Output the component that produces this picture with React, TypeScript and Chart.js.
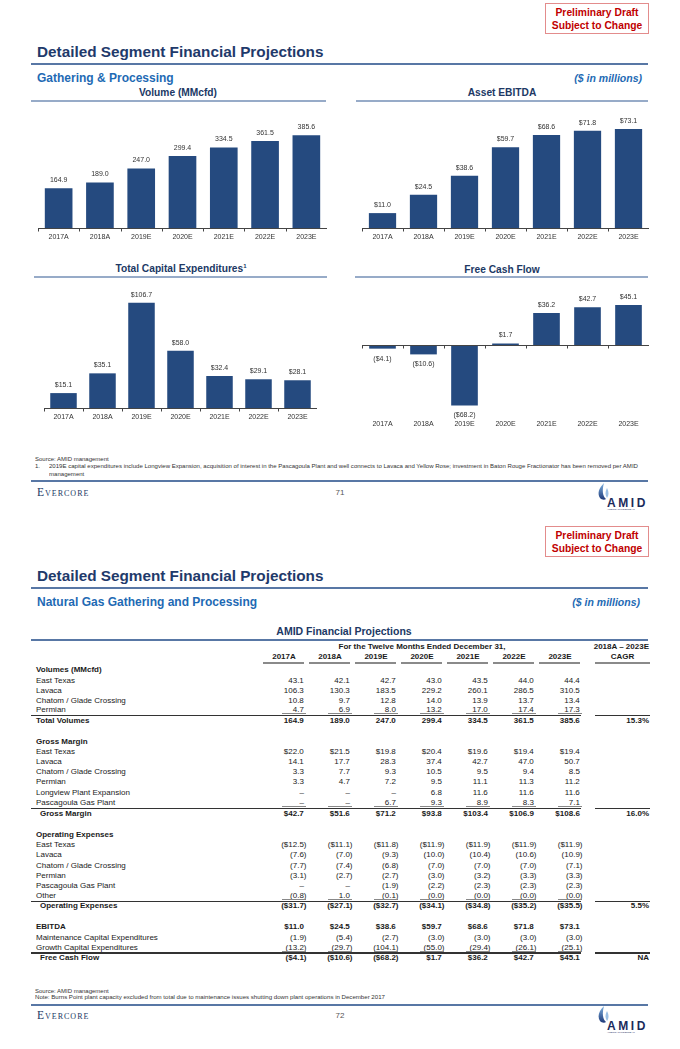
import React, { useEffect, useRef } from 'react';
import { Chart, registerables } from 'chart.js';

Chart.register(...registerables);

const FONT = "'Liberation Sans', Arial, Helvetica, sans-serif";
const SERIF = "'Liberation Serif', 'Times New Roman', serif";

// ---------- chart data ----------
const years = ['2017A', '2018A', '2019E', '2020E', '2021E', '2022E', '2023E'];
const volumeMMcfd = [164.9, 189.0, 247.0, 299.4, 334.5, 361.5, 385.6];
const assetEbitda = [11.0, 24.5, 38.6, 59.7, 68.6, 71.8, 73.1];
const totalCapex = [15.1, 35.1, 106.7, 58.0, 32.4, 29.1, 28.1];
const freeCashFlow = [-4.1, -10.6, -68.2, 1.7, 36.2, 42.7, 45.1];

// ---------- table data ----------
const volEastTexas = ['43.1', '42.1', '42.7', '43.0', '43.5', '44.0', '44.4'];
const volLavaca = ['106.3', '130.3', '183.5', '229.2', '260.1', '286.5', '310.5'];
const volChatom = ['10.8', '9.7', '12.8', '14.0', '13.9', '13.7', '13.4'];
const volPermian = ['4.7', '6.9', '8.0', '13.2', '17.0', '17.4', '17.3'];
const volTotal = ['164.9', '189.0', '247.0', '299.4', '334.5', '361.5', '385.6'];

const gmEastTexas = ['$22.0', '$21.5', '$19.8', '$20.4', '$19.6', '$19.4', '$19.4'];
const gmLavaca = ['14.1', '17.7', '28.3', '37.4', '42.7', '47.0', '50.7'];
const gmChatom = ['3.3', '7.7', '9.3', '10.5', '9.5', '9.4', '8.5'];
const gmPermian = ['3.3', '4.7', '7.2', '9.5', '11.1', '11.3', '11.2'];
const gmLongview = ['–', '–', '–', '6.8', '11.6', '11.6', '11.6'];
const gmPascagoula = ['–', '–', '6.7', '9.3', '8.9', '8.3', '7.1'];
const gmTotal = ['$42.7', '$51.6', '$71.2', '$93.8', '$103.4', '$106.9', '$108.6'];

const oxEastTexas = ['($12.5)', '($11.1)', '($11.8)', '($11.9)', '($11.9)', '($11.9)', '($11.9)'];
const oxLavaca = ['(7.6)', '(7.0)', '(9.3)', '(10.0)', '(10.4)', '(10.6)', '(10.9)'];
const oxChatom = ['(7.7)', '(7.4)', '(6.8)', '(7.0)', '(7.0)', '(7.0)', '(7.1)'];
const oxPermian = ['(3.1)', '(2.7)', '(2.7)', '(3.0)', '(3.2)', '(3.3)', '(3.3)'];
const oxPascagoula = ['–', '–', '(1.9)', '(2.2)', '(2.3)', '(2.3)', '(2.3)'];
const oxOther = ['(0.8)', '1.0', '(0.1)', '(0.0)', '(0.0)', '(0.0)', '(0.0)'];
const oxTotal = ['($31.7)', '($27.1)', '($32.7)', '($34.1)', '($34.8)', '($35.2)', '($35.5)'];

const ebitdaRow = ['$11.0', '$24.5', '$38.6', '$59.7', '$68.6', '$71.8', '$73.1'];
const maintCapex = ['(1.9)', '(5.4)', '(2.7)', '(3.0)', '(3.0)', '(3.0)', '(3.0)'];
const growthCapex = ['(13.2)', '(29.7)', '(104.1)', '(55.0)', '(29.4)', '(26.1)', '(25.1)'];
const fcfRow = ['($4.1)', '($10.6)', '($68.2)', '$1.7', '$36.2', '$42.7', '$45.1'];

const cagrVolumes = '15.3%';
const cagrGrossMargin = '16.0%';
const cagrOpex = '5.5%';
const cagrFcf = 'NA';

// ---------- styling ----------
const BAR_COLOR = '#254A7F';
const NAVY = '#1F3A6B';
const DARK_NAVY = '#203864';
const BLUE = '#1E6AB4';
const RULE = '#5877A5';
const LIGHT_RULE = '#97ABC8';
const AXIS_H = 16;

const baseAxisPlugin = {
  id: 'baseAxis',
  afterDatasetsDraw(chart: any) {
    const { ctx, chartArea, scales } = chart;
    const y0 = Math.round(scales.y.getPixelForValue(0)) + 0.5;
    const n = chart.data.labels.length;
    ctx.save();
    ctx.strokeStyle = '#444';
    ctx.lineWidth = 1;
    ctx.beginPath();
    ctx.moveTo(chartArea.left, y0);
    ctx.lineTo(chartArea.right, y0);
    for (let i = 0; i <= n; i++) {
      const x = Math.round(scales.x.getPixelForValue(i - 0.5)) + 0.5;
      ctx.moveTo(x, y0);
      ctx.lineTo(x, y0 + 3);
    }
    ctx.stroke();
    ctx.restore();
  },
};

function makeValueLabels(fmt: (v: number) => string) {
  return {
    id: 'valueLabels',
    afterDatasetsDraw(chart: any) {
      const ctx = chart.ctx;
      const meta = chart.getDatasetMeta(0);
      const data = chart.data.datasets[0].data as number[];
      ctx.save();
      ctx.font = `7px ${FONT}`;
      ctx.fillStyle = '#333';
      ctx.textAlign = 'center';
      ctx.textBaseline = 'middle';
      meta.data.forEach((el: any, i: number) => {
        const v = data[i];
        ctx.fillText(fmt(v), el.x, v >= 0 ? el.y - 8 : el.y + 10);
      });
      ctx.restore();
    },
  };
}

type ChartProps = {
  left: number;
  top: number;
  width: number;
  plotH: number;
  min: number;
  max: number;
  values: number[];
  money: boolean;
  barPct: number;
  tickPad: number;
};

function BarChart(p: ChartProps) {
  const ref = useRef<HTMLCanvasElement>(null);
  useEffect(() => {
    const fmt = (v: number) =>
      p.money ? (v < 0 ? `($${(-v).toFixed(1)})` : `$${v.toFixed(1)}`) : v.toFixed(1);
    const chart = new Chart(ref.current as HTMLCanvasElement, {
      type: 'bar',
      data: {
        labels: years,
        datasets: [
          {
            data: p.values,
            backgroundColor: BAR_COLOR,
            borderWidth: 0,
            barPercentage: p.barPct,
            categoryPercentage: 1,
          },
        ],
      },
      options: {
        animation: false,
        responsive: true,
        maintainAspectRatio: false,
        layout: { padding: 0 },
        plugins: { legend: { display: false }, tooltip: { enabled: false }, title: { display: false } },
        scales: {
          x: {
            grid: { display: false, drawTicks: false },
            border: { display: false },
            ticks: {
              color: '#333',
              font: { family: FONT, size: 7 },
              padding: p.tickPad,
              maxRotation: 0,
              autoSkip: false,
            },
            afterFit: (s: any) => {
              s.height = AXIS_H;
            },
          },
          y: { display: false, min: p.min, max: p.max },
        },
      } as any,
      plugins: [baseAxisPlugin, makeValueLabels(fmt)],
    });
    return () => chart.destroy();
  }, []);
  return (
    <div style={{ position: 'absolute', left: p.left, top: p.top, width: p.width, height: p.plotH + AXIS_H }}>
      <canvas ref={ref} />
    </div>
  );
}

type TxtProps = {
  x: number;
  y: number;
  size?: number;
  bold?: boolean;
  italic?: boolean;
  color?: string;
  align?: 'left' | 'right' | 'center';
  family?: string;
  style?: React.CSSProperties;
  children?: React.ReactNode;
};

function Txt({ x, y, size = 8, bold = false, italic = false, color = '#1a1a1a', align = 'left', family = FONT, style, children }: TxtProps) {
  const L = Math.round(size * 1.3);
  const s: React.CSSProperties = {
    position: 'absolute',
    top: y - L / 2,
    lineHeight: `${L}px`,
    fontSize: size,
    fontWeight: bold ? 700 : 400,
    fontStyle: italic ? 'italic' : 'normal',
    color,
    fontFamily: family,
    whiteSpace: 'nowrap',
  };
  if (align === 'left') s.left = x;
  else if (align === 'right') s.right = 680 - x;
  else {
    s.left = x - 300;
    s.width = 600;
    s.textAlign = 'center';
  }
  return <div style={{ ...s, ...style }}>{children}</div>;
}

function Rule({ x1, x2, y, h = 1, color = RULE }: { x1: number; x2: number; y: number; h?: number; color?: string }) {
  return <div style={{ position: 'absolute', left: x1, width: x2 - x1, top: y - h / 2, height: h, background: color }} />;
}

function Small({ x, y, size = 12, children }: { x: number; y: number; size?: number; children?: React.ReactNode }) {
  return (
    <div
      style={{
        position: 'absolute',
        left: x,
        top: y - 6,
        lineHeight: '12px',
        fontSize: size,
        fontFamily: FONT,
        color: '#333',
        whiteSpace: 'nowrap',
        transform: 'scale(0.5)',
        transformOrigin: '0 50%',
      }}
    >
      {children}
    </div>
  );
}

function PrelimBox({ top }: { top: number }) {
  return (
    <>
      <div
        style={{
          position: 'absolute',
          left: 545,
          top,
          width: 104,
          height: 31,
          boxSizing: 'border-box',
          border: '1px solid #E38C8C',
        }}
      />
      <Txt x={597} y={top + 9.7} size={10.3} bold color="#C00000" align="center">
        Preliminary Draft
      </Txt>
      <Txt x={597} y={top + 22} size={10.3} bold color="#C00000" align="center">
        Subject to Change
      </Txt>
    </>
  );
}

function AmidLogo({ top, gid }: { top: number; gid: string }) {
  return (
    <svg style={{ position: 'absolute', left: 597, top }} width={54} height={27} viewBox="0 0 54 27">
      <defs>
        <linearGradient id={gid} x1="0" y1="0" x2="0" y2="1">
          <stop offset="0" stopColor="#7FB2E0" />
          <stop offset="1" stopColor="#1F3A7A" />
        </linearGradient>
      </defs>
      <path d="M7 0 C 2 5, 0 10, 3 15 C 4.5 17, 8 17, 9 16 C 5.5 13, 5 7, 7 0 Z" fill={`url(#${gid})`} />
      <path d="M10 5 C 8 9, 8 12, 10 15 C 12 12, 12 9, 10 5 Z" fill="#9CC0E4" />
      <text x={10} y={24} fontFamily={FONT} fontWeight={900} fontSize={12} letterSpacing={2.6} fill="#1B2A5C">
        AMID
      </text>
      <text x={10} y={26.6} fontFamily={FONT} fontSize={2.4} fill="#1B2A5C">
        AMERICAN MIDSTREAM
      </text>
    </svg>
  );
}

function Footer({ rule, brandY, page, logoTop, gid }: { rule: number; brandY: number; page: string; logoTop: number; gid: string }) {
  return (
    <>
      <Rule x1={31} x2={648} y={rule} h={2} />
      <Txt x={37} y={brandY} size={11.5} family={SERIF} color={DARK_NAVY} style={{ fontVariant: 'small-caps', letterSpacing: '1px' }}>
        Evercore
      </Txt>
      <Txt x={340} y={brandY + 1} size={8} color="#555" align="center">
        {page}
      </Txt>
      <AmidLogo top={logoTop} gid={gid} />
    </>
  );
}

const colRight = years.map((_, i) => 304 + 46 * i);

function Cell({ x, y, v, bold }: { x: number; y: number; v: string; bold?: boolean }) {
  const hangs = v.endsWith(')');
  return (
    <Txt x={x + 2.5} y={y} bold={bold} align="right">
      {v}
      {!hangs && <span style={{ visibility: 'hidden' }}>)</span>}
    </Txt>
  );
}

type Row = { label: string; y: number; vals?: string[]; bold?: boolean; indent?: boolean; cagr?: string; underline?: boolean };

function Table() {
  const rows: Row[] = [
    { label: 'Volumes (MMcfd)', y: 670, bold: true },
    { label: 'East Texas', y: 680.5, vals: volEastTexas },
    { label: 'Lavaca', y: 690.5, vals: volLavaca },
    { label: 'Chatom / Glade Crossing', y: 700.5, vals: volChatom },
    { label: 'Permian', y: 710, vals: volPermian, underline: true },
    { label: 'Total Volumes', y: 721, vals: volTotal, bold: true, cagr: cagrVolumes },
    { label: 'Gross Margin', y: 742, bold: true },
    { label: 'East Texas', y: 752, vals: gmEastTexas },
    { label: 'Lavaca', y: 762, vals: gmLavaca },
    { label: 'Chatom / Glade Crossing', y: 772, vals: gmChatom },
    { label: 'Permian', y: 782, vals: gmPermian },
    { label: 'Longview Plant Expansion', y: 792.5, vals: gmLongview },
    { label: 'Pascagoula Gas Plant', y: 803, vals: gmPascagoula, underline: true },
    { label: 'Gross Margin', y: 814, vals: gmTotal, bold: true, indent: true, cagr: cagrGrossMargin },
    { label: 'Operating Expenses', y: 835, bold: true },
    { label: 'East Texas', y: 845, vals: oxEastTexas },
    { label: 'Lavaca', y: 855, vals: oxLavaca },
    { label: 'Chatom / Glade Crossing', y: 865.5, vals: oxChatom },
    { label: 'Permian', y: 876, vals: oxPermian },
    { label: 'Pascagoula Gas Plant', y: 886, vals: oxPascagoula },
    { label: 'Other', y: 896, vals: oxOther, underline: true },
    { label: 'Operating Expenses', y: 906, vals: oxTotal, bold: true, indent: true, cagr: cagrOpex },
    { label: 'EBITDA', y: 927, vals: ebitdaRow, bold: true },
    { label: 'Maintenance Capital Expenditures', y: 937.5, vals: maintCapex },
    { label: 'Growth Capital Expenditures', y: 947.5, vals: growthCapex, underline: true },
    { label: 'Free Cash Flow', y: 958, vals: fcfRow, bold: true, indent: true, cagr: cagrFcf },
  ];
  return (
    <>
      <Txt x={422} y={647} bold align="center">
        For the Twelve Months Ended December 31,
      </Txt>
      <Txt x={649} y={647} bold align="right">
        2018A – 2023E
      </Txt>
      {years.map((yr, i) => (
        <React.Fragment key={yr}>
          <Txt x={colRight[i] - 20} y={657} bold align="center">
            {yr}
          </Txt>
          <Rule x1={colRight[i] - 41} x2={colRight[i]} y={663} h={1.5} color="#8A8A8A" />
        </React.Fragment>
      ))}
      <Txt x={622.5} y={657} bold align="center">
        CAGR
      </Txt>
      <Rule x1={595} x2={650} y={663} h={1.5} color="#8A8A8A" />
      {rows.map((r, k) => (
        <React.Fragment key={k}>
          <Txt x={r.indent ? 40 : 36} y={r.y} bold={r.bold}>
            {r.label}
          </Txt>
          {r.vals && r.vals.map((v, i) => <Cell key={i} x={colRight[i]} y={r.y} v={v} bold={r.bold} />)}
          {r.cagr && (
            <Txt x={649} y={r.y} bold align="right">
              {r.cagr}
            </Txt>
          )}
          {r.underline && (
            <>
              {colRight.map((cr, i) => (
                <Rule key={i} x1={cr - 22} x2={cr + 2} y={r.y + 3.6} h={0.6} color="#888" />
              ))}
              <Rule x1={31} x2={581} y={r.y + 5.5} h={1.4} color="#333" />
              <Rule x1={595} x2={650} y={r.y + 5.5} h={1.4} color="#333" />
            </>
          )}
        </React.Fragment>
      ))}
    </>
  );
}

export default function App() {
  return (
    <div
      style={{
        position: 'absolute',
        left: 0,
        top: 0,
        width: 680,
        height: 1049,
        overflow: 'hidden',
        background: '#fff',
        fontFamily: FONT,
      }}
    >
      {/* ---------------- Page 71 ---------------- */}
      <PrelimBox top={3} />
      <Txt x={37} y={52} size={15.3} bold color={NAVY}>
        Detailed Segment Financial Projections
      </Txt>
      <Rule x1={31} x2={648} y={64} h={2} />
      <Txt x={37} y={78} size={12} bold color={BLUE}>
        Gathering &amp; Processing
      </Txt>
      <Txt x={642} y={78} size={10.5} bold italic color={BLUE} align="right">
        ($ in millions)
      </Txt>

      <Txt x={178} y={92} size={10.2} bold color={DARK_NAVY} align="center">
        Volume (MMcfd)
      </Txt>
      <Txt x={502} y={92} size={10.2} bold color={DARK_NAVY} align="center">
        Asset EBITDA
      </Txt>
      <Rule x1={31} x2={326} y={101} h={1.5} color={LIGHT_RULE} />
      <Rule x1={356} x2={648} y={101} h={1.5} color={LIGHT_RULE} />

      <BarChart left={38} top={110} width={289} plotH={118} min={0} max={490} values={volumeMMcfd} money={false} barPct={0.67} tickPad={5} />
      <BarChart left={362} top={110} width={287} plotH={118} min={0} max={87.15} values={assetEbitda} money={true} barPct={0.665} tickPad={4.8} />

      <Txt x={181} y={268} size={10.2} bold color={DARK_NAVY} align="center">
        Total Capital Expenditures<sup style={{ fontSize: 6, verticalAlign: 'top', lineHeight: '8px' }}>1</sup>
      </Txt>
      <Txt x={502} y={269} size={10.2} bold color={DARK_NAVY} align="center">
        Free Cash Flow
      </Txt>
      <Rule x1={34} x2={327} y={277} h={1.5} color={LIGHT_RULE} />
      <Rule x1={355} x2={648} y={277} h={1.5} color={LIGHT_RULE} />

      <BarChart left={44} top={285} width={273} plotH={123} min={0} max={124.6} values={totalCapex} money={true} barPct={0.68} tickPad={4.5} />
      <BarChart left={362} top={285} width={287} plotH={131} min={-80.2} max={67.8} values={freeCashFlow} money={true} barPct={0.65} tickPad={4.3} />

      <Small x={35} y={459}>Source: AMID management</Small>
      <Small x={35} y={466}>1.</Small>
      <Small x={49} y={466} size={12.1}>
        2019E capital expenditures include Longview Expansion, acquisition of interest in the Pascagoula Plant and well connects to Lavaca and Yellow Rose; investment in Baton Rouge Fractionator has been removed per AMID
      </Small>
      <Small x={49} y={473.5} size={12.1}>management</Small>

      <Footer rule={481} brandY={492} page="71" logoTop={483} gid="flameA" />

      {/* ---------------- Page 72 ---------------- */}
      <PrelimBox top={526} />
      <Txt x={37} y={576} size={15.3} bold color={NAVY}>
        Detailed Segment Financial Projections
      </Txt>
      <Rule x1={31} x2={648} y={588} h={2} />
      <Txt x={37} y={602} size={12} bold color={BLUE}>
        Natural Gas Gathering and Processing
      </Txt>
      <Txt x={640} y={602} size={10.5} bold italic color={BLUE} align="right">
        ($ in millions)
      </Txt>
      <Txt x={344} y={631} size={10.5} bold color={DARK_NAVY} align="center">
        AMID Financial Projections
      </Txt>
      <Rule x1={31} x2={648} y={640} h={1.5} />

      <Table />

      <Small x={35} y={991}>Source: AMID management</Small>
      <Small x={35} y={997} size={12.2}>
        Note: Burns Point plant capacity excluded from total due to maintenance issues shutting down plant operations in December 2017
      </Small>

      <Footer rule={1005} brandY={1015} page="72" logoTop={1006} gid="flameB" />
    </div>
  );
}
